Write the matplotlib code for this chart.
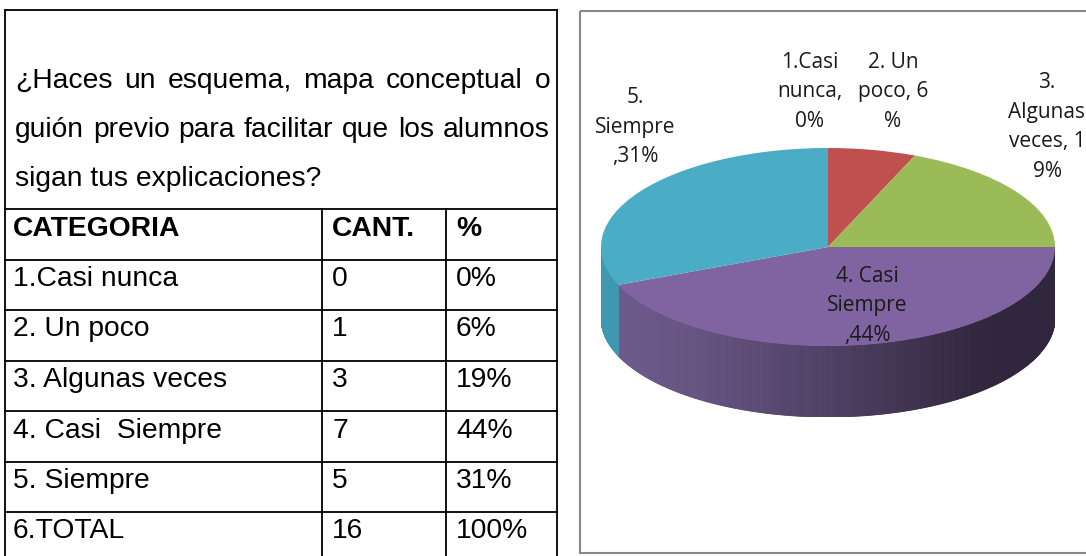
import numpy as np
import matplotlib
matplotlib.use('Agg')
import matplotlib.pyplot as plt
from matplotlib.patches import Rectangle, Polygon

# Datos de la encuesta
pregunta = ["¿Haces un esquema, mapa conceptual o",
            "guión previo para facilitar que los alumnos",
            "sigan tus explicaciones?"]
encabezados = ["CATEGORIA", "CANT.", "%"]
categorias = ["1.Casi nunca", "2. Un poco", "3. Algunas veces",
              "4. Casi  Siempre", "5. Siempre", "6.TOTAL"]
cantidades = [0, 1, 3, 7, 5, 16]
porcentajes = ["0%", "6%", "19%", "44%", "31%", "100%"]

etiquetas_pie = ["1.Casi\nnunca,\n0%", "2. Un\npoco, 6\n%", "3.\nAlgunas\nveces, 1\n9%",
                 "4. Casi\nSiempre\n,44%", "5.\nSiempre\n,31%"]
colores = ["#4F81BD", "#C0504D", "#9BBB59", "#8064A2", "#4BACC6"]
colores_lado = {3: ("#6E5A8C", "#30263D"), 4: ("#3E98AF", "#3E98AF")}

W, H = 1086, 556
fig = plt.figure(figsize=(W / 100, H / 100), dpi=100)
renderer = fig.canvas.get_renderer()

# capa de fondo en pixeles
bg = fig.add_axes([0, 0, 1, 1])
bg.set_xlim(0, W)
bg.set_ylim(H, 0)
bg.axis('off')

# ---- tabla ----
x0, x1, x2, x3 = 5, 322, 446, 557
y_top, y_tab = 10, 209
alto = 50.5
lw = 1.3
fs = 20.3
fuente_tabla = 'Liberation Sans'

bg.plot([x0, x3], [y_top, y_top], color='black', lw=lw)
bg.plot([x0, x0], [y_top, H + 5], color='black', lw=lw)
bg.plot([x3, x3], [y_top, H + 5], color='black', lw=lw)

# pregunta: texto justificado en las dos primeras lineas
izq, der = 15, 550
for i, linea in enumerate(pregunta):
    y = 81 + i * 49
    if i < 2:
        palabras = linea.split(" ")
        textos = [bg.text(0, y, p, fontsize=fs, family=fuente_tabla, va='center', ha='left')
                  for p in palabras]
        anchos = [t.get_window_extent(renderer).width for t in textos]
        hueco = (der - izq - sum(anchos)) / (len(palabras) - 1)
        xp = izq
        for t, a in zip(textos, anchos):
            t.set_x(xp)
            xp += a + hueco
    else:
        bg.text(izq, y, linea, fontsize=fs, family=fuente_tabla, va='center', ha='left')

filas = [encabezados] + [[c, str(n), p] for c, n, p in zip(categorias, cantidades, porcentajes)]
for i, fila in enumerate(filas):
    y = y_tab + i * alto
    bg.plot([x0, x3], [y, y], color='black', lw=lw)
    bg.plot([x1, x1], [y, y + alto], color='black', lw=lw)
    bg.plot([x2, x2], [y, y + alto], color='black', lw=lw)
    peso = 'bold' if i == 0 else 'normal'
    for xc, txt in zip([x0 + 8, x1 + 10, x2 + 10], fila):
        bg.text(xc, y + 19.5, txt, fontsize=fs, family=fuente_tabla,
                fontweight=peso, va='center', ha='left')

# ---- marco del grafico ----
bg.add_patch(Rectangle((580, 11), 540, 542, fill=False,
                       edgecolor='#878787', lw=1.5))

# ---- pastel 3D ----
cx, cy, rx, ry, prof = 828, 247, 227, 99, 71
d = prof / ry
pax = fig.add_axes([(cx - rx) / W, (H - (cy + ry + prof)) / H,
                    2 * rx / W, (2 * ry + prof) / H])
pax.axis('off')

valores = np.array(cantidades[:5], dtype=float)
fr = valores / valores.sum()
inicio = 90 - 360 * np.concatenate([[0], np.cumsum(fr)[:-1]])
fin = inicio - 360 * fr

# lado (solo la mitad frontal)
for k in range(5):
    if fr[k] == 0 or k not in colores_lado:
        continue
    ts = np.linspace(np.radians(fin[k]), np.radians(inicio[k]), 400)
    ts_front = ts[np.sin(ts) < 0]
    if len(ts_front) < 2:
        continue
    c_izq = np.array(matplotlib.colors.to_rgb(colores_lado[k][0]))
    c_der = np.array(matplotlib.colors.to_rgb(colores_lado[k][1]))
    for t_a, t_b in zip(ts_front[:-1], ts_front[1:]):
        xm = (np.cos(t_a) + np.cos(t_b)) / 2
        f = np.clip((xm + 0.95) / 1.6, 0, 1) ** 1.3
        col = c_izq * (1 - f) + c_der * f
        quad = [(np.cos(t_a), np.sin(t_a)), (np.cos(t_b), np.sin(t_b)),
                (np.cos(t_b), np.sin(t_b) - d), (np.cos(t_a), np.sin(t_a) - d)]
        pax.add_patch(Polygon(quad, closed=True, facecolor=col, edgecolor=col, lw=0.6))

pax.pie(valores, colors=colores, startangle=90, counterclock=False, radius=1,
        wedgeprops=dict(linewidth=0))
pax.set_aspect('auto')
pax.set_xlim(-1, 1)
pax.set_ylim(-1 - d, 1)

# etiquetas del pastel (capa superior)
top = fig.add_axes([0, 0, 1, 1])
top.set_xlim(0, W)
top.set_ylim(H, 0)
top.axis('off')
top.patch.set_alpha(0)
fuente_pie = 'Open Sans'
pos_etiquetas = [(810, 92), (893, 92), (1047, 127), (867, 306), (635, 127)]
for txt, (xt, yt) in zip(etiquetas_pie, pos_etiquetas):
    top.text(xt, yt, txt, fontsize=15, family=fuente_pie, ha='center', va='center',
             linespacing=1.55, color='#1a1a1a')

fig.savefig('out.png', dpi=100)
